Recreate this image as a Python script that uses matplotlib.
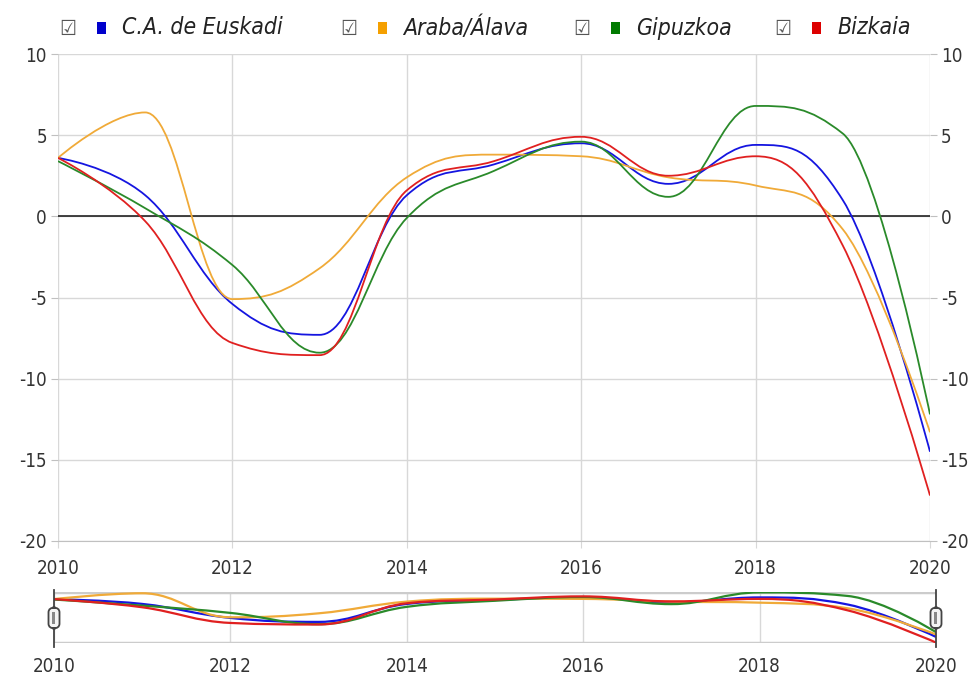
import numpy as np
import matplotlib
matplotlib.use("Agg")
import matplotlib.pyplot as plt
from matplotlib.path import Path
from matplotlib.patches import PathPatch, FancyBboxPatch, Rectangle
from matplotlib import font_manager as fm

_avail = set((f.name, f.stretch) for f in fm.fontManager.ttflist)
if ("DejaVu Sans", "condensed") in _avail or ("DejaVu Sans", "semi-condensed") in _avail:
    STRETCH = "condensed"
else:
    STRETCH = "normal"
plt.rcParams['font.family'] = ["DejaVu Sans"]
plt.rcParams['font.stretch'] = STRETCH
plt.rcParams['axes.unicode_minus'] = False

years = [2010, 2011, 2012, 2013, 2014, 2015, 2016, 2017, 2018, 2019, 2020]
series_names = ["C.A. de Euskadi", "Araba/Álava", "Gipuzkoa", "Bizkaia"]
euskadi = [3.6, 1.3, -5.4, -7.3, 1.3, 3.2, 4.5, 2.0, 4.4, 1.0, -14.5]
araba = [3.6, 6.4, -5.1, -3.2, 2.4, 3.8, 3.7, 2.4, 1.9, -0.8, -13.3]
gipuzkoa = [3.4, 0.5, -3.0, -8.4, -0.1, 2.8, 4.6, 1.2, 6.8, 5.1, -12.2]
bizkaia = [3.6, -0.3, -7.8, -8.55, 1.6, 3.4, 4.9, 2.5, 3.7, -1.8, -17.2]
series_values = [euskadi, araba, gipuzkoa, bizkaia]
colors = ["#1515e0", "#f0aa38", "#2a8a2a", "#e02020"]
legend_colors = ["#0000cc", "#f5a000", "#007a00", "#dd0000"]
x_ticks = [2010, 2012, 2014, 2016, 2018, 2020]
y_ticks = [-20, -15, -10, -5, 0, 5, 10]


def spline_path(xs, ys, sx=1.0, sy=1.0):
    """Highcharts-style spline, computed in (scaled) display space."""
    px = np.asarray(xs, float) * sx
    py = np.asarray(ys, float) * sy
    n = len(px)
    lc = [None] * n
    rc = [None] * n
    smoothing = 1.5
    denom = smoothing + 1
    for i in range(n):
        if i == 0 or i == n - 1:
            lc[i] = (px[i], py[i])
            rc[i] = (px[i], py[i])
            continue
        lx, ly = px[i - 1], py[i - 1]
        nx, ny = px[i + 1], py[i + 1]
        x, y = px[i], py[i]
        lcx = (smoothing * x + lx) / denom
        lcy = (smoothing * y + ly) / denom
        rcx = (smoothing * x + nx) / denom
        rcy = (smoothing * y + ny) / denom
        corr = 0.0
        if rcx != lcx:
            corr = ((rcy - lcy) * (rcx - x)) / (rcx - lcx) + y - rcy
        lcy += corr
        rcy += corr
        if lcy > ly and lcy > y:
            lcy = max(ly, y)
            rcy = 2 * y - lcy
        elif lcy < ly and lcy < y:
            lcy = min(ly, y)
            rcy = 2 * y - lcy
        if rcy > ny and rcy > y:
            rcy = max(ny, y)
            lcy = 2 * y - rcy
        elif rcy < ny and rcy < y:
            rcy = min(ny, y)
            lcy = 2 * y - rcy
        lc[i] = (lcx, lcy)
        rc[i] = (rcx, rcy)
    verts = [(px[0] / sx, py[0] / sy)]
    codes = [Path.MOVETO]
    for i in range(1, n):
        verts += [(rc[i - 1][0] / sx, rc[i - 1][1] / sy),
                  (lc[i][0] / sx, lc[i][1] / sy),
                  (px[i] / sx, py[i] / sy)]
        codes += [Path.CURVE4] * 3
    return Path(verts, codes)


W, H = 979, 679
fig = plt.figure(figsize=(W / 100, H / 100), dpi=100)

# main axes
L, R, T, B = 58, 930, 54, 541
ax = fig.add_axes([L / W, 1 - B / H, (R - L) / W, (B - T) / H])
ax.set_xlim(2010, 2020)
ax.set_ylim(-20, 10)
ax.set_xticks(x_ticks)
ax.set_yticks(y_ticks)
ax.grid(True, color="#d8d8d8", linewidth=1)
ax.set_axisbelow(True)
for s in ax.spines.values():
    s.set_visible(False)
ax.spines['bottom'].set_visible(True)
ax.spines['bottom'].set_color("#c0c0c0")
ax.tick_params(axis='x', length=5, color="#d8d8d8", labelsize=13.5,
               labelcolor="#333333", pad=8)
ax.tick_params(axis='y', length=5, color="#c0c0c0", labelsize=13.5,
               labelcolor="#333333", left=True, right=True,
               labelleft=True, labelright=True, pad=3)
ax.axhline(0, color="#111111", linewidth=1.1, zorder=3)

sx = (R - L) / 10.0
sy = (B - T) / 30.0
for vals, c in zip(series_values, colors):
    ax.add_patch(PathPatch(spline_path(years, vals, sx, sy), facecolor='none',
                           edgecolor=c, linewidth=1.3, zorder=4))

# navigator
NL, NR, NT, NB = 54, 936, 592, 643
nav = fig.add_axes([NL / W, 1 - NB / H, (NR - NL) / W, (NB - NT) / H])
ymin = min(min(v) for v in series_values)
ymax = max(max(v) for v in series_values)
pad = 0.2
nav.set_xlim(2010, 2020)
nav.set_ylim(ymin - pad, ymax + pad)
nav.set_xticks(x_ticks)
nav.set_yticks([])
nav.grid(True, axis='x', color="#d8d8d8", linewidth=1)
nav.set_axisbelow(True)
for s in nav.spines.values():
    s.set_visible(False)
nav.tick_params(axis='x', length=0, labelsize=13.5, colors="#333333", pad=10)
nav.axhline(ymax + pad, color="#cccccc", linewidth=2.5, zorder=2)
nav.axhline(ymin - pad, color="#cccccc", linewidth=2.5, zorder=2)
nsx = (NR - NL) / 10.0
nsy = (NB - NT) / (ymax - ymin + 2 * pad)
for vals, c in zip(series_values, colors):
    nav.add_patch(PathPatch(spline_path(years, vals, nsx, nsy), facecolor='none',
                            edgecolor=c, linewidth=1.6, zorder=4))
# handles
for px_h in (NL, NR):
    fig.add_artist(plt.Line2D([px_h / W, px_h / W], [1 - 590 / H, 1 - 647 / H],
                              color="#444444", linewidth=1.3, zorder=9))
    hw, hh = 11, 21
    yc = 618
    box = FancyBboxPatch(((px_h - hw / 2) / W, 1 - (yc + hh / 2) / H), hw / W, hh / H,
                         boxstyle="round,pad=0,rounding_size=0.007",
                         transform=fig.transFigure, facecolor="#f4f4f4",
                         edgecolor="#444444", linewidth=1.3, zorder=10)
    fig.patches.append(box)
    fig.patches.append(Rectangle(((px_h - 1.5) / W, 1 - (yc + 6) / H), 3 / W, 12 / H,
                                 transform=fig.transFigure, facecolor="#888888",
                                 edgecolor='none', zorder=11))

# legend
leg_x = [68, 349, 582, 783]
ly = 28
for name, c, x0 in zip(series_names, legend_colors, leg_x):
    fig.text(x0 / W, 1 - (ly + 1) / H, "\u2611", fontsize=15, color="#555555",
             ha='center', va='center', family=['DejaVu Sans'])
    fig.patches.append(Rectangle(((x0 + 29) / W, 1 - (ly + 6) / H),
                                 9 / W, 12 / H, transform=fig.transFigure,
                                 facecolor=c, edgecolor='none'))
    fig.text((x0 + 54) / W, 1 - ly / H, name, fontsize=16.5, style='italic',
             color="#222222", ha='left', va='center')

fig.savefig("out.png", dpi=100, facecolor="white")
